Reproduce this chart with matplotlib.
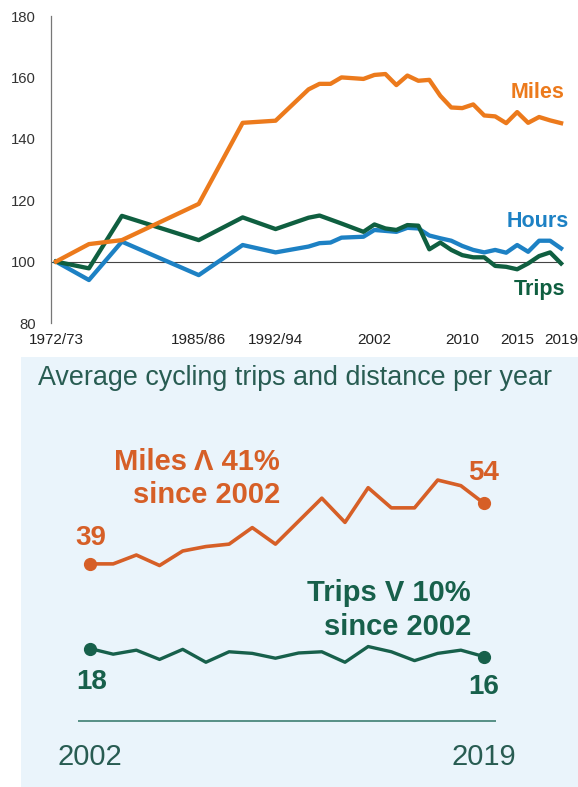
import matplotlib
matplotlib.use("Agg")
import matplotlib.pyplot as plt

plt.rcParams['font.family'] = ['Liberation Sans', 'DejaVu Sans']

# ---------------- Data: top chart (index, 1972/73 = 100) ----------------
top_x = [1973, 1976, 1979, 1986, 1990, 1993, 1996, 1997, 1998, 1999, 2001,
         2002, 2003, 2004, 2005, 2006, 2007, 2008, 2009, 2010, 2011, 2012,
         2013, 2014, 2015, 2016, 2017, 2018, 2019]
miles_idx = [100, 105.7, 107.0, 118.8, 145.2, 145.9, 156.1, 157.9, 157.9, 160.0, 159.5,
             160.8, 161.1, 157.5, 160.6, 158.9, 159.2, 154.0, 150.2, 150.0, 151.2, 147.6,
             147.3, 145.1, 148.7, 145.2, 147.1, 146.0, 145.1]
hours_idx = [100, 94.0, 106.5, 95.6, 105.4, 103.0, 104.9, 106.0, 106.2, 107.8, 108.1,
             110.3, 110.0, 109.7, 111.0, 110.8, 108.5, 107.6, 106.8, 105.1, 103.8, 103.0,
             103.8, 102.9, 105.4, 103.2, 106.8, 106.8, 104.3]
trips_idx = [100, 97.8, 114.9, 107.0, 114.4, 110.6, 114.3, 115.0, 113.7, 112.4, 109.7,
             112.1, 110.8, 110.3, 111.9, 111.7, 104.0, 106.2, 103.8, 102.1, 101.4, 101.4,
             98.6, 98.3, 97.5, 99.4, 101.8, 103.0, 99.4]
top_tick_pos = [1973, 1986, 1993, 2002, 2010, 2015, 2019]
top_tick_labels = ['1972/73', '1985/86', '1992/94', '2002', '2010', '2015', '2019']
y_ticks = [80, 100, 120, 140, 160, 180]

# ---------------- Data: bottom chart ----------------
years = list(range(2002, 2020))
miles = [39, 39, 41.2, 38.6, 42.2, 43.3, 43.9, 48.0, 43.9, 49.6, 55.3, 49.3,
         57.9, 52.9, 52.9, 59.8, 58.4, 54]
trips = [18, 16.6, 17.6, 15.3, 17.8, 14.6, 17.2, 16.8, 15.6, 16.9, 17.2, 14.6,
         18.5, 17.2, 15.0, 16.8, 17.6, 16]

# ---------------- Styling ----------------
ORANGE = '#ec7a1c'
BLUE = '#1d81c4'
GREEN = '#0f5f40'
ORANGE2 = '#d65f27'
GREEN2 = '#17604b'
TEAL_TXT = '#285c52'
PANEL_BG = '#eaf4fb'

W, H = 578, 787
fig = plt.figure(figsize=(W / 100, H / 100), dpi=100)
fig.patch.set_facecolor('white')


def fx(x):
    return x / W


def fy(y):
    return 1 - y / H


# ---------------- Top chart ----------------
ax = fig.add_axes([fx(51), fy(323), (575 - 51) / W, (323 - 16) / H])
k = 10.98  # px per year
x0 = 1973 - 5 / k
x1 = x0 + (575 - 51) / k
ax.set_xlim(x0, x1)
ax.set_ylim(80, 180)
for s in ['top', 'right', 'bottom']:
    ax.spines[s].set_visible(False)
ax.spines['left'].set_color('#777777')
ax.spines['left'].set_linewidth(0.9)
ax.axhline(100, xmin=0, xmax=(top_x[-1] - x0) / (x1 - x0), color='#444444', lw=0.8, zorder=1)

ax.plot(top_x, hours_idx, color=BLUE, lw=3.1, zorder=3)
ax.plot(top_x, trips_idx, color=GREEN, lw=3.1, zorder=4)
ax.plot(top_x, miles_idx, color=ORANGE, lw=3.1, zorder=5)

ax.set_yticks(y_ticks)
ax.set_yticklabels([str(t) for t in y_ticks])
ax.set_xticks(top_tick_pos)
ax.set_xticklabels(top_tick_labels)
ax.tick_params(axis='y', length=0, pad=10.8, labelsize=10.7, labelcolor='#333333')
ax.tick_params(axis='x', length=0, pad=7, labelsize=11, labelcolor='#222222')

ax.text(2016.85, 153.3, 'Miles', ha='center', va='baseline', fontsize=15.5,
        fontweight='bold', color=ORANGE)
ax.text(2016.85, 111.4, 'Hours', ha='center', va='baseline', fontsize=15.5,
        fontweight='bold', color=BLUE)
ax.text(2017.0, 89.1, 'Trips', ha='center', va='baseline', fontsize=15.5,
        fontweight='bold', color=GREEN)

# ---------------- Bottom panel ----------------
bx = fig.add_axes([fx(21), 0, (W - 21) / W, (H - 357) / H])
bx.set_facecolor(PANEL_BG)
kb = 23.18  # px per year
bx.set_xlim(years[0] - (90 - 21) / kb, years[0] + (W - 90) / kb)
sy = 4.031
base = 721.1
bx.set_ylim((base - H) / sy, (base - 357) / sy)
for s in bx.spines.values():
    s.set_visible(False)
bx.set_xticks([])
bx.set_yticks([])

bx.hlines(0, years[0] - 0.53, years[-1] + 0.53, color='#2f7565', lw=1.1)
bx.plot(years, miles, color=ORANGE2, lw=2.6, zorder=3)
bx.plot(years, trips, color=GREEN2, lw=2.4, zorder=3)
bx.plot([years[0], years[-1]], [miles[0], miles[-1]], 'o', ms=8.5, color=ORANGE2, zorder=4)
bx.plot([years[0], years[-1]], [trips[0], trips[-1]], 'o', ms=8.5, color=GREEN2, zorder=4)

num_kw = dict(textcoords='offset pixels', ha='center', va='baseline',
              fontsize=20, fontweight='bold')
bx.annotate(f'{miles[0]:.0f}', xy=(years[0], miles[0]), xytext=(1, 19), color=ORANGE2, **num_kw)
bx.annotate(f'{miles[-1]:.0f}', xy=(years[-1], miles[-1]), xytext=(0, 23), color=ORANGE2, **num_kw)
bx.annotate(f'{trips[0]:.0f}', xy=(years[0], trips[0]), xytext=(2, -40), color=GREEN2, **num_kw)
bx.annotate(f'{trips[-1]:.0f}', xy=(years[-1], trips[-1]), xytext=(0, -37), color=GREEN2, **num_kw)

yr_kw = dict(textcoords='offset pixels', ha='center', va='baseline', fontsize=21, color=TEAL_TXT)
bx.annotate(str(years[0]), xy=(years[0], 0), xytext=(0, -44), **yr_kw)
bx.annotate(str(years[-1]), xy=(years[-1], 0), xytext=(0, -44), **yr_kw)

fig.text(fx(38), fy(385), 'Average cycling trips and distance per year', ha='left',
         va='baseline', fontsize=19.4, color=TEAL_TXT)

ann_kw = dict(ha='right', va='baseline', fontsize=21, fontweight='bold')
fig.text(fx(280), fy(470), 'Miles Λ 41%', color=ORANGE2, **ann_kw)
fig.text(fx(280), fy(503), 'since 2002', color=ORANGE2, **ann_kw)
fig.text(fx(471), fy(601), 'Trips V 10%', color=GREEN2, **ann_kw)
fig.text(fx(471), fy(635), 'since 2002', color=GREEN2, **ann_kw)

fig.savefig('out.png', dpi=100, facecolor='white')
